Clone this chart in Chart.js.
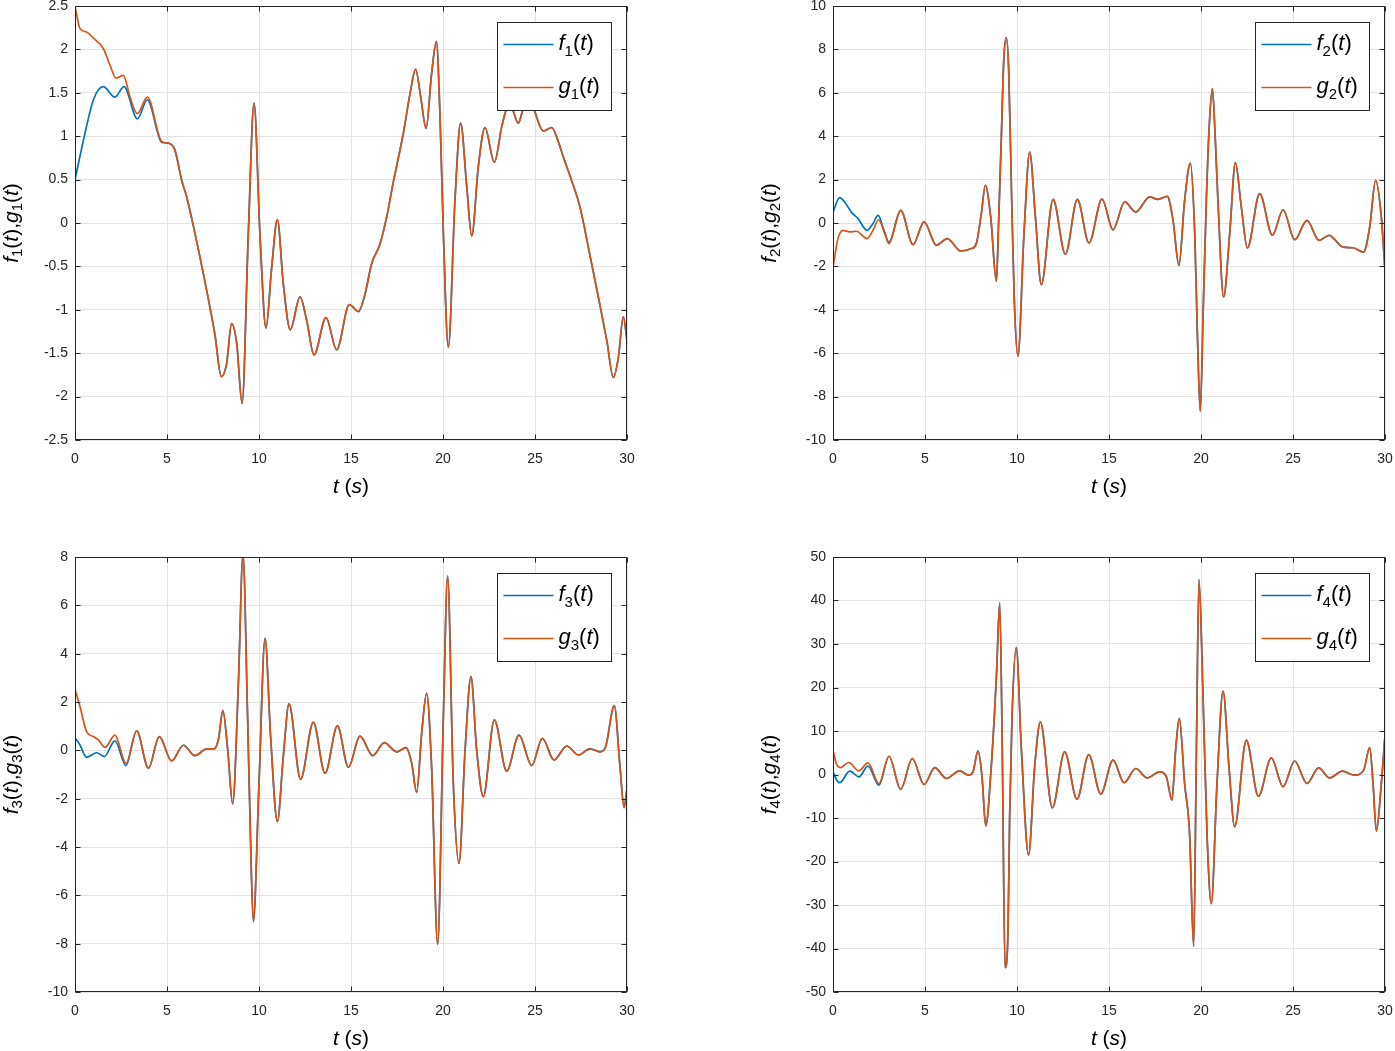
<!DOCTYPE html>
<html>
<head>
<meta charset="utf-8">
<script src="https://cdn.jsdelivr.net/npm/chart.js@4.4.0/dist/chart.umd.min.js"></script>
<style>
  body { margin: 0; background: #fff; width: 1395px; height: 1051px; overflow: hidden; position: relative; }
  canvas { position: absolute; }
</style>
</head>
<body>
<canvas id="c1" width="637" height="500" style="left:0px;top:0px"></canvas>
<canvas id="c2" width="637" height="500" style="left:758px;top:0px"></canvas>
<canvas id="c3" width="637" height="501" style="left:0px;top:551px"></canvas>
<canvas id="c4" width="637" height="501" style="left:758px;top:551px"></canvas>
<script>
/* global Chart */

// ---- data ----
// subplot 1
let t1 = [0, 0.54, 1.0, 1.54, 2.17, 2.66, 3.39, 3.93, 4.71, 5.07, 5.43, 5.8, 6.07, 6.52, 7.16, 7.6, 7.95, 8.24, 8.51, 8.79, 9.08, 9.42, 9.73, 10.05, 10.38, 10.69, 11.0, 11.32, 11.7, 12.23, 12.59, 12.99, 13.64, 14.22, 14.91, 15.4, 15.76, 16.12, 16.58, 16.94, 17.3, 17.84, 18.21, 18.51, 18.79, 19.08, 19.38, 19.64, 19.84, 20.02, 20.29, 20.65, 20.96, 21.29, 21.56, 21.92, 22.28, 22.79, 23.19, 23.42, 23.6, 23.8, 24.09, 24.33, 24.62, 24.96, 25.45, 25.91, 26.18, 26.54, 26.99, 27.45, 27.9, 28.44, 28.9, 29.26, 29.53, 29.8, 30];
let f1 = [0.5, 1.03, 1.42, 1.57, 1.45, 1.57, 1.2, 1.42, 0.93, 0.92, 0.84, 0.49, 0.3, -0.12, -0.78, -1.28, -1.77, -1.62, -1.16, -1.39, -2.08, -0.12, 1.38, -0.12, -1.21, -0.51, 0.04, -0.7, -1.23, -0.85, -1.12, -1.52, -1.09, -1.46, -0.94, -1.02, -0.82, -0.47, -0.24, 0.07, 0.47, 1.03, 1.49, 1.77, 1.45, 1.09, 1.72, 2.09, 1.22, -0.12, -1.43, 0.26, 1.15, 0.42, -0.15, 0.65, 1.1, 0.7, 1.11, 1.3, 1.42, 1.3, 1.15, 1.3, 1.5, 1.3, 1.06, 1.1, 0.99, 0.76, 0.49, 0.18, -0.28, -0.85, -1.35, -1.78, -1.55, -1.08, -1.35];
let tg1 = [0, 0.27, 0.63, 1.0, 1.54, 1.9, 2.23, 2.63, 2.99, 3.39, 3.93, 4.71];
let g1Head = [2.5, 2.24, 2.2, 2.13, 2.01, 1.82, 1.67, 1.7, 1.45, 1.26, 1.45, 0.94];

// subplot 2
let t2 = [0, 0.36, 0.63, 1.0, 1.36, 1.85, 2.17, 2.45, 2.77, 3.04, 3.68, 4.35, 4.95, 5.62, 6.21, 6.94, 7.52, 7.79, 8.06, 8.28, 8.57, 8.88, 9.0, 9.15, 9.28, 9.42, 9.55, 9.7, 9.85, 10.05, 10.38, 10.69, 11.0, 11.32, 11.96, 12.63, 13.28, 13.91, 14.62, 15.22, 15.85, 16.45, 17.21, 17.66, 18.17, 18.48, 18.8, 19.11, 19.42, 19.66, 19.8, 19.96, 20.12, 20.29, 20.45, 20.62, 20.77, 20.92, 21.23, 21.56, 21.87, 22.19, 22.52, 23.19, 23.88, 24.46, 25.09, 25.76, 26.41, 26.96, 27.72, 28.26, 28.84, 29.17, 29.49, 29.8, 30];
let f2 = [0.5, 1.17, 0.97, 0.5, 0.2, -0.34, -0.03, 0.35, -0.34, -0.88, 0.58, -1.0, 0.05, -1.03, -0.72, -1.29, -1.18, -0.95, 0.43, 1.74, 0.28, -2.69, 0, 4.0, 7.5, 8.54, 7.0, 1.5, -3.5, -6.14, -0.49, 3.27, 0.28, -2.84, 1.09, -1.44, 1.09, -0.92, 1.1, -0.31, 0.97, 0.51, 1.2, 1.09, 1.23, 0.12, -1.95, 1.04, 2.76, -0.49, -5.0, -8.68, -4.0, 1.04, 4.5, 6.19, 4.0, 1.04, -3.41, -0.49, 2.78, 0.74, -1.15, 1.35, -0.57, 0.61, -0.77, 0.12, -0.8, -0.57, -1.11, -1.14, -1.34, -0.18, 1.97, 0.28, -2.2];
let tg2 = [0, 0.27, 0.54, 0.91, 1.27, 1.85, 2.17, 2.48, 2.81, 3.04];
let g2Head = [-2.03, -0.72, -0.34, -0.41, -0.38, -0.72, -0.34, 0.15, -0.49, -0.95];

// subplot 3
let t3 = [0, 0.27, 0.63, 1.18, 1.59, 2.17, 2.77, 3.35, 3.99, 4.58, 5.25, 5.89, 6.52, 7.16, 7.55, 7.79, 8.04, 8.3, 8.57, 8.88, 9.13, 9.38, 9.51, 9.69, 10.0, 10.33, 10.63, 11.0, 11.32, 11.63, 12.26, 12.95, 13.59, 14.26, 14.86, 15.49, 16.18, 16.81, 17.48, 17.99, 18.3, 18.57, 18.84, 19.11, 19.38, 19.71, 20.02, 20.25, 20.56, 20.87, 21.2, 21.52, 21.83, 22.19, 22.79, 23.46, 24.13, 24.82, 25.4, 26.03, 26.72, 27.36, 27.99, 28.53, 28.84, 29.31, 29.62, 29.84, 30];
let f3 = [0.52, 0.22, -0.29, -0.1, -0.26, 0.39, -0.63, 0.81, -0.74, 0.57, -0.44, 0.21, -0.22, 0.06, 0.06, 0.43, 1.64, 0.01, -2.22, 2.77, 8.1, 1.39, -2.74, -7.09, -1.37, 4.63, 0.57, -2.95, -0.26, 1.92, -1.2, 1.16, -0.95, 1.01, -0.7, 0.59, -0.22, 0.32, -0.06, 0.11, -0.54, -1.74, 0.7, 2.36, -0.68, -8.03, 1.39, 7.21, -1.37, -4.68, 0.01, 3.05, 0.01, -1.92, 1.26, -0.86, 0.63, -0.63, 0.5, -0.4, 0.18, -0.19, 0.06, -0.06, 0.15, 1.85, -0.68, -2.37, -1.6];
let tg3 = [0, 0.27, 0.63, 1.0, 1.27, 1.63, 2.17, 2.77, 3.35];
let g3Head = [2.52, 1.81, 0.77, 0.57, 0.43, 0.12, 0.63, -0.54, 0.81];

// subplot 4
let t4 = [0, 0.18, 0.36, 0.91, 1.41, 1.9, 2.5, 3.04, 3.68, 4.31, 4.95, 5.53, 6.16, 6.88, 7.37, 7.61, 7.88, 8.1, 8.3, 8.6, 8.88, 9.06, 9.2, 9.35, 9.51, 9.6, 9.73, 9.96, 10.24, 10.63, 10.96, 11.27, 11.92, 12.59, 13.26, 13.9, 14.55, 15.22, 15.82, 16.45, 17.08, 17.75, 18.12, 18.42, 18.62, 18.82, 19.11, 19.38, 19.6, 19.75, 19.89, 20.11, 20.33, 20.56, 20.87, 21.2, 21.52, 21.83, 22.46, 23.12, 23.82, 24.46, 25.09, 25.76, 26.39, 26.99, 27.68, 28.35, 28.84, 29.17, 29.35, 29.53, 29.8, 30];
let f4 = [0.6, -1.15, -1.9, 0.77, -0.54, 1.92, -2.45, 4.2, -3.4, 3.68, -2.3, 1.6, -0.92, 0.84, -0.15, 0.6, 5.44, -0.54, -11.8, 1.76, 22.45, 39.46, 5.6, -44.4, -36.5, -9.7, 13.3, 29.2, 5.6, -18.5, 1.76, 12.1, -7.66, 5.2, -5.67, 4.6, -4.5, 3.3, -1.9, 1.38, -0.77, 0.6, -0.54, -5.9, 5.6, 12.9, -2.07, -13.6, -39.5, 5.6, 44.8, 18, -14, -29.7, -2.07, 19.2, 1.76, -12.0, 7.9, -5.0, 3.8, -2.8, 3.1, -2.07, 1.5, -0.77, 0.77, -0.15, 1.0, 6.2, -2.07, -13.0, -2.07, 9.0];
let tg4 = [0, 0.18, 0.4, 0.85, 1.41, 1.9, 2.5, 3.04];
let g4Head = [5.6, 2.53, 1.6, 2.76, 0.84, 2.68, -2.07, 4.2];

const BLUE = "#0072BD";
const ORANGE = "#D95319";
const INK = "#262626";
const FONT = '"Liberation Sans", Arial, sans-serif';

function toPoints(ts, vs) {
  return ts.map((t, i) => ({ x: t, y: vs[i] }));
}

// orange curve: its own start, then the shared tail once the two lines meet
function joinTail(tHead, head, ts, vs) {
  let last = tHead[tHead.length - 1];
  let pts = toPoints(tHead, head);
  ts.forEach((t, i) => {
    if (t > last) pts.push({ x: t, y: vs[i] });
  });
  return pts;
}

function fontFor(kind, size) {
  let s = kind === "s" ? Math.round(size * 0.7) : size;
  return (kind === "i" ? "italic " : "") + s + "px " + FONT;
}

// draw a run of [text, kind] pieces, kind: i = italic, n = normal, s = subscript
function drawParts(ctx, parts, x, y, size, centered) {
  let w = 0;
  parts.forEach((p) => {
    ctx.font = fontFor(p[1], size);
    w += ctx.measureText(p[0]).width;
  });
  let cx = centered ? x - w / 2 : x;
  parts.forEach((p) => {
    ctx.font = fontFor(p[1], size);
    ctx.fillText(p[0], cx, p[1] === "s" ? y + size * 0.3 : y);
    cx += ctx.measureText(p[0]).width;
  });
}

function fn(letter, n) {
  return [[letter, "i"], [String(n), "s"], ["(", "n"], ["t", "i"], [")", "n"]];
}

const matlabLook = {
  id: "matlabLook",
  afterDraw(chart, args, opts) {
    const { ctx, chartArea: a, scales } = chart;
    ctx.save();
    // box and inward ticks
    ctx.strokeStyle = INK;
    ctx.lineWidth = 1;
    let L = Math.round(a.left) + 0.5, R = Math.round(a.right) - 0.5;
    let T = Math.round(a.top) + 0.5, B = Math.round(a.bottom) - 0.5;
    ctx.strokeRect(L, T, R - L, B - T);
    ctx.beginPath();
    scales.x.ticks.forEach((tk) => {
      let px = Math.round(scales.x.getPixelForValue(tk.value)) + 0.5;
      ctx.moveTo(px, B); ctx.lineTo(px, B - 5);
      ctx.moveTo(px, T); ctx.lineTo(px, T + 5);
    });
    scales.y.ticks.forEach((tk) => {
      let py = Math.round(scales.y.getPixelForValue(tk.value)) + 0.5;
      ctx.moveTo(L, py); ctx.lineTo(L + 5, py);
      ctx.moveTo(R, py); ctx.lineTo(R - 5, py);
    });
    ctx.stroke();

    // legend
    let bw = 114, bh = 88;
    let bx = Math.round(a.right) - 16 - bw + 0.5;
    let by = Math.round(a.top) + 16 + 0.5;
    ctx.fillStyle = "#fff";
    ctx.fillRect(bx, by, bw, bh);
    ctx.strokeStyle = INK;
    ctx.strokeRect(bx, by, bw, bh);
    [[BLUE, "f", 22], [ORANGE, "g", 65]].forEach((row) => {
      ctx.strokeStyle = row[0];
      ctx.lineWidth = 1.6;
      ctx.beginPath();
      ctx.moveTo(bx + 6, by + row[2]);
      ctx.lineTo(bx + 56, by + row[2]);
      ctx.stroke();
      ctx.fillStyle = "#000";
      ctx.textBaseline = "alphabetic";
      drawParts(ctx, fn(row[1], opts.n), bx + 61, by + row[2] + 5, 22, false);
    });

    // axis titles
    ctx.fillStyle = "#000";
    ctx.textBaseline = "middle";
    drawParts(ctx, [["t", "i"], [" (", "n"], ["s", "i"], [")", "n"]], (a.left + a.right) / 2, a.bottom + 47, 21, true);
    ctx.save();
    ctx.translate(a.left - 63, (a.top + a.bottom) / 2);
    ctx.rotate(-Math.PI / 2);
    drawParts(ctx, fn("f", opts.n).concat([[",", "n"]], fn("g", opts.n)), 0, 0, 21, true);
    ctx.restore();
    ctx.restore();
  },
};

function makeChart(id, n, ts, fs, tHead, gHead, yMin, yMax, yStep) {
  let tickFont = { family: FONT, size: 14 };
  return new Chart(document.getElementById(id).getContext("2d"), {
    type: "line",
    data: {
      datasets: [
        {
          label: "f" + n + "(t)",
          data: toPoints(ts, fs),
          borderColor: BLUE,
          borderWidth: 1.7,
          pointRadius: 0,
          cubicInterpolationMode: "monotone",
          order: 1,
        },
        {
          label: "g" + n + "(t)",
          data: joinTail(tHead, gHead, ts, fs),
          borderColor: ORANGE,
          borderWidth: 1.7,
          pointRadius: 0,
          cubicInterpolationMode: "monotone",
          order: 0,
        },
      ],
    },
    options: {
      responsive: false,
      animation: false,
      layout: { padding: { top: 6, right: 10, left: 0, bottom: 0 } },
      plugins: {
        legend: { display: false },
        tooltip: { enabled: false },
        matlabLook: { n: n },
      },
      scales: {
        x: {
          type: "linear",
          min: 0,
          max: 30,
          ticks: { stepSize: 5, padding: 11, color: INK, font: tickFont, maxRotation: 0 },
          grid: { color: "#e3e3e3", drawTicks: false },
          border: { display: false },
          afterFit: (s) => { s.height = 60; s.paddingLeft = 0; s.paddingRight = 0; },
        },
        y: {
          min: yMin,
          max: yMax,
          ticks: {
            stepSize: yStep,
            padding: 7,
            color: INK,
            font: tickFont,
            callback: (v) => String(Math.round(v * 10) / 10),
          },
          grid: { color: "#e3e3e3", drawTicks: false },
          border: { display: false },
          afterFit: (s) => { s.width = 75; s.paddingTop = 0; s.paddingBottom = 0; },
        },
      },
    },
    plugins: [matlabLook],
  });
}

makeChart("c1", 1, t1, f1, tg1, g1Head, -2.5, 2.5, 0.5);
makeChart("c2", 2, t2, f2, tg2, g2Head, -10, 10, 2);
makeChart("c3", 3, t3, f3, tg3, g3Head, -10, 8, 2);
makeChart("c4", 4, t4, f4, tg4, g4Head, -50, 50, 10);
</script>
</body>
</html>
